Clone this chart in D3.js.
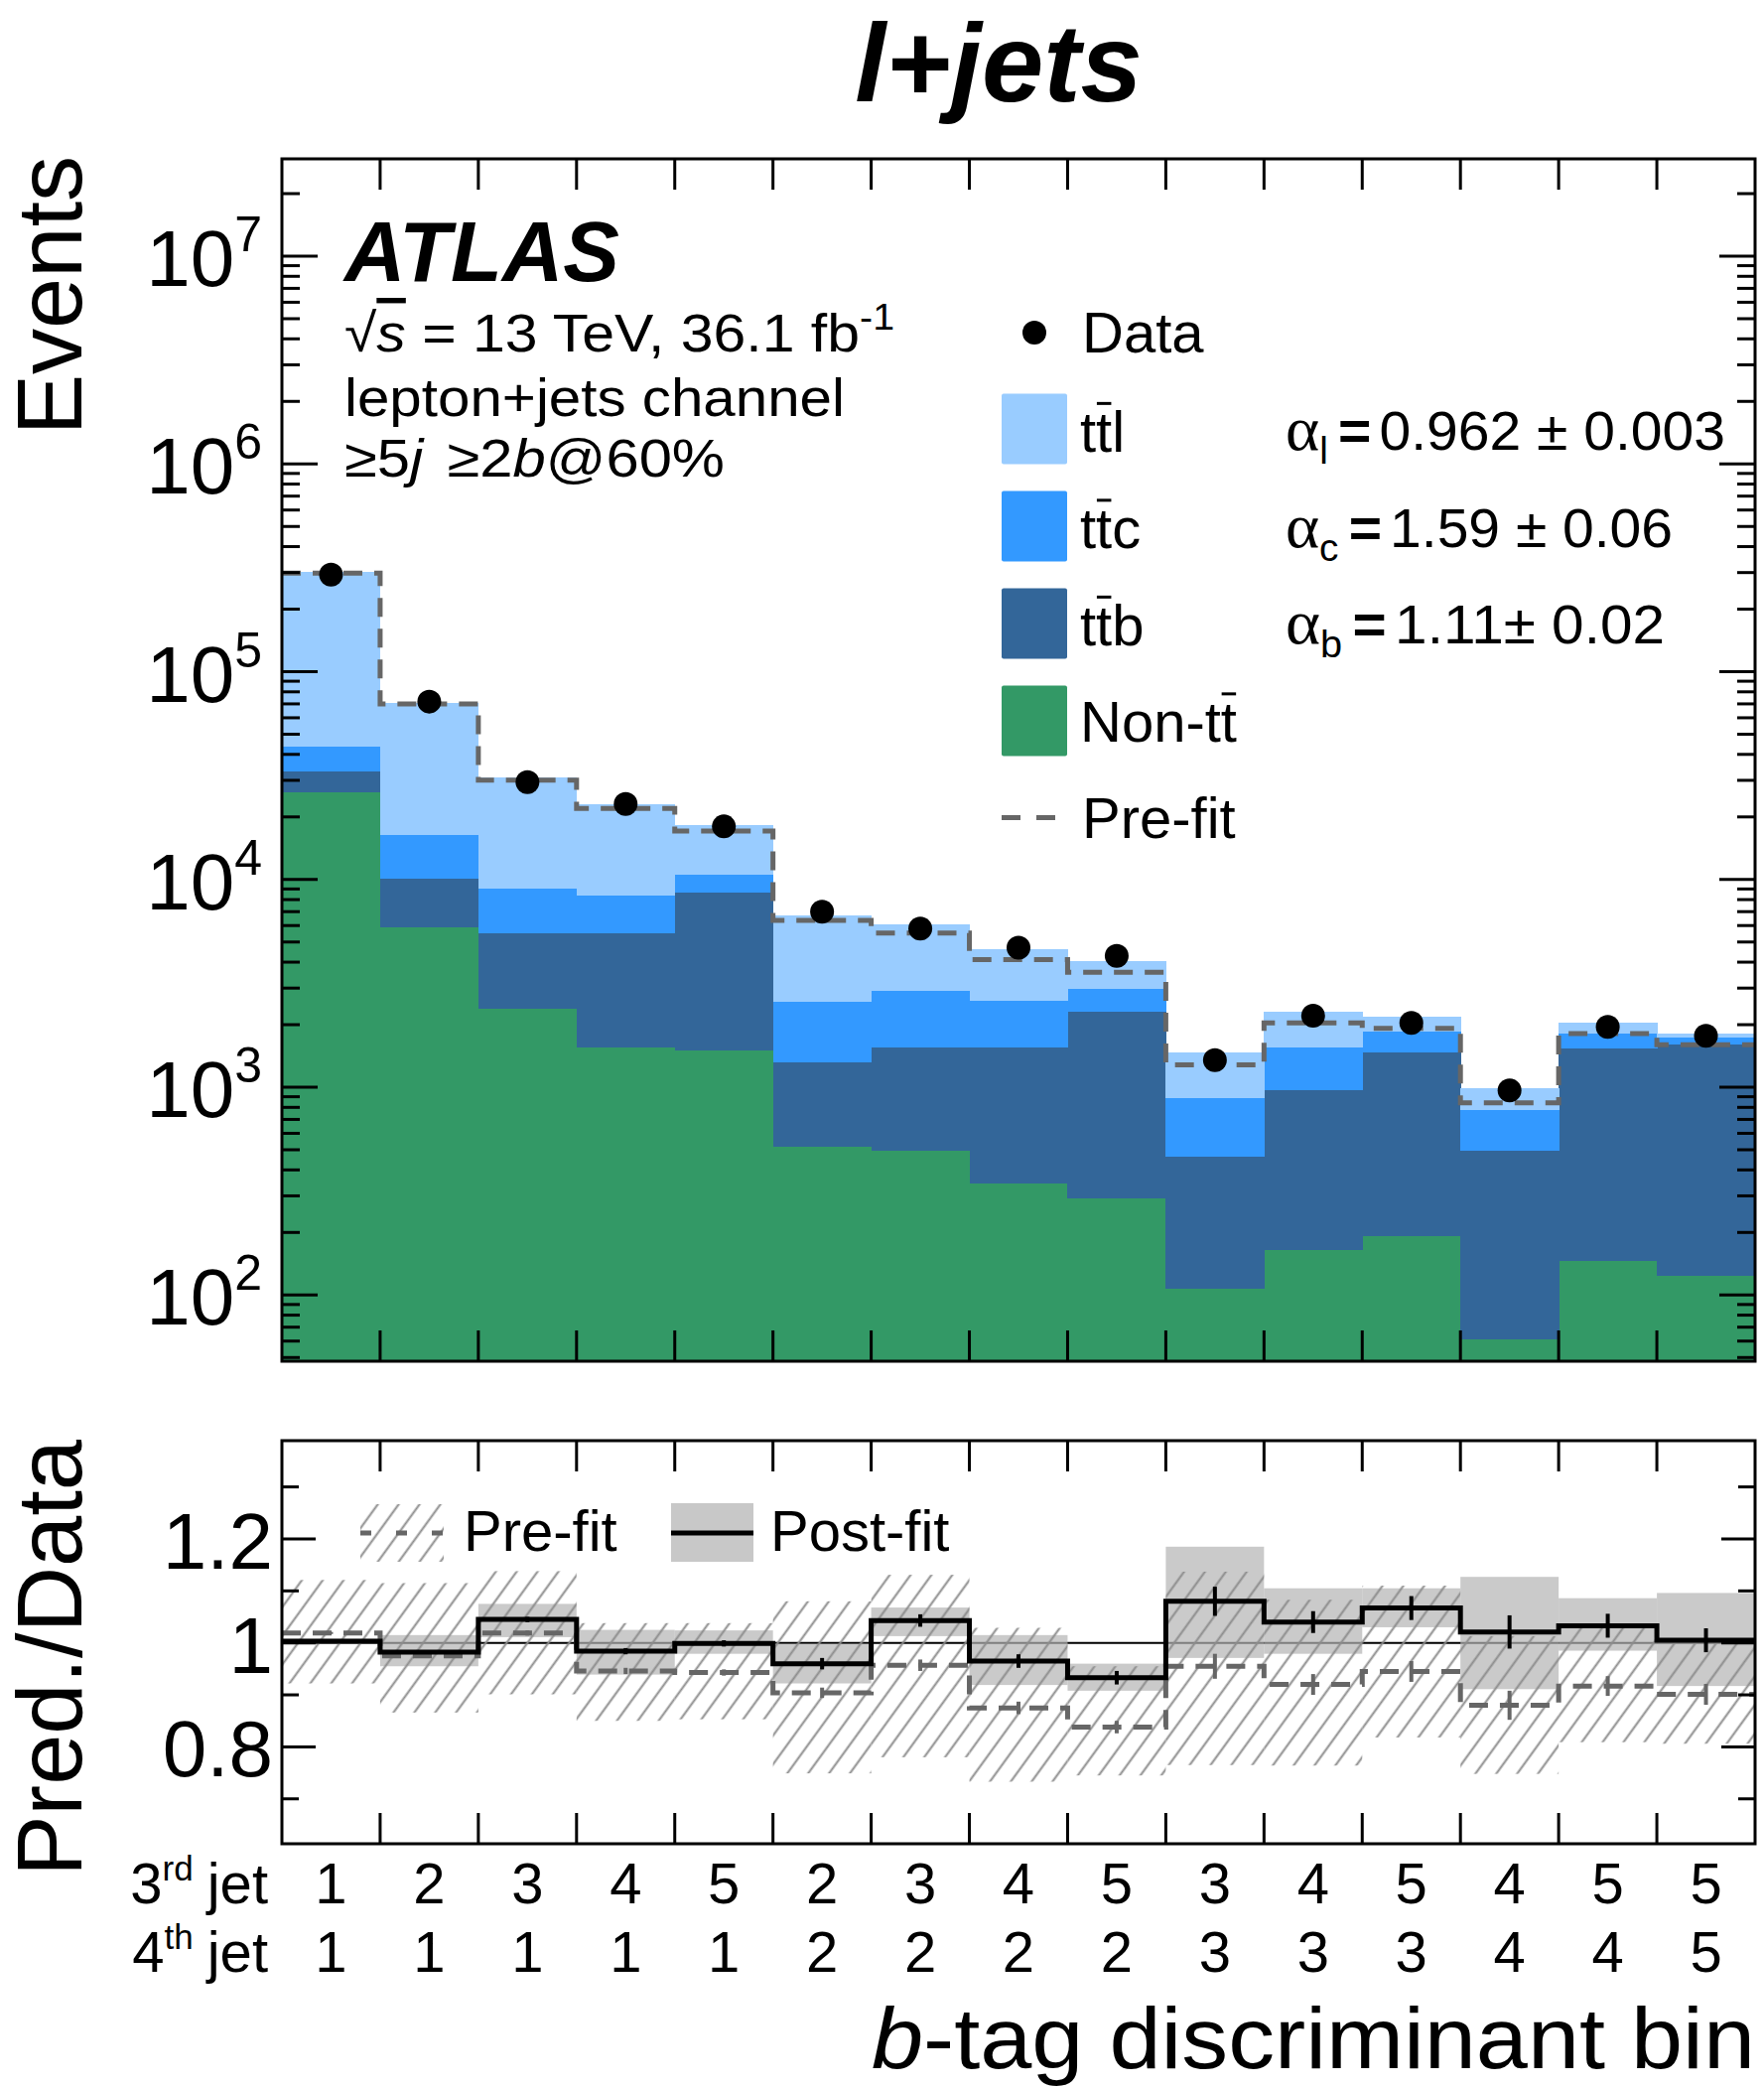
<!DOCTYPE html>
<html>
<head>
<meta charset="utf-8">
<script src="https://cdn.jsdelivr.net/npm/d3@7"></script>
<style>
body { margin: 0; background: #fff; }
svg { display: block; }
text { font-family: "Liberation Sans", Arial, Helvetica, sans-serif; fill: #000; }
</style>
</head>
<body>
<script>

var width = 1777, height = 2103;

// b-tag discriminant bin labels
var jet3 = [1, 2, 3, 4, 5, 2, 3, 4, 5, 3, 4, 5, 4, 5, 5];
var jet4 = [1, 1, 1, 1, 1, 2, 2, 2, 2, 3, 3, 3, 4, 4, 5];

// post-fit yields per process (stacked bottom to top)
var nonTT = [26200, 5870, 2380, 1560, 1510, 519, 497, 344, 291, 107, 164, 192, 61, 146, 123];
var ttb   = [6800, 4230, 3110, 3930, 7180, 791, 1063, 1216, 2029, 356, 803, 1278, 436, 1394, 1487];
var ttc   = [10800, 6200, 3510, 2840, 1810, 1260, 1350, 1060, 660, 420, 593, 380, 281, 280, 120];
var ttl   = [258200, 54600, 22100, 14670, 7700, 4180, 3140, 2000, 1060, 587, 750, 330, 212, 230, 80];

var data   = [293000, 71800, 29400, 23100, 18000, 7000, 5800, 4700, 4290, 1350, 2210, 2040, 966, 1950, 1770];
var preFit = [298000, 70000, 30100, 22000, 17100, 6350, 5520, 4110, 3580, 1280, 2040, 1920, 841, 1810, 1600];

// ratio panel: Pred./Data
var postRatio = [1.003, 0.982, 1.045, 0.984, 0.999, 0.960, 1.043, 0.965, 0.933, 1.080, 1.040, 1.067, 1.021, 1.033, 1.005];
var postErr   = [0.002, 0.003, 0.005, 0.006, 0.006, 0.011, 0.012, 0.013, 0.013, 0.028, 0.021, 0.023, 0.032, 0.023, 0.023];
var postLo    = [0.998, 0.955, 1.011, 0.939, 0.979, 0.922, 1.013, 0.919, 0.908, 0.971, 0.979, 1.030, 0.911, 0.985, 0.917];
var postHi    = [1.008, 1.015, 1.075, 1.025, 1.024, 0.998, 1.068, 1.015, 0.960, 1.185, 1.105, 1.105, 1.127, 1.086, 1.096];

var preRatio = [1.019, 0.975, 1.019, 0.946, 0.943, 0.904, 0.957, 0.875, 0.838, 0.955, 0.920, 0.945, 0.880, 0.917, 0.901];
var preErr   = [0.002, 0.003, 0.005, 0.006, 0.006, 0.010, 0.011, 0.012, 0.012, 0.024, 0.020, 0.020, 0.028, 0.019, 0.020];
var preLo    = [0.922, 0.866, 0.901, 0.850, 0.853, 0.749, 0.780, 0.733, 0.745, 0.765, 0.764, 0.818, 0.748, 0.809, 0.806];
var preHi    = [1.121, 1.115, 1.138, 1.038, 1.038, 1.080, 1.131, 1.029, 0.955, 1.137, 1.083, 1.110, 1.013, 1.035, 1.000];

// axis ticks
var yMajor = [1e2, 1e3, 1e4, 1e5, 1e6, 1e7];
var rMajor = [0.8, 1, 1.2];
var rLabels = ["0.8", "1", "1.2"];
var rMinor = [0.7, 0.9, 1.1, 1.3];

// legend
var procKeys   = ["nonTT", "ttb", "ttc", "ttl"];
var procColors = ["#339966", "#336699", "#3399ff", "#99ccff"];
var legLabels  = ["ttl", "ttc", "ttb", "Non-tt"];
var legBarChar = [1, 1, 1, 5];
var legColors  = ["#99ccff", "#3399ff", "#336699", "#339966"];

var plotL = 284, plotR = 1768;
var topT = 160, topB = 1371;
var ratT = 1451, ratB = 1857;
var yMin = 48;

var x = d3.scaleLinear().domain([0, 15]).range([plotL, plotR]);
var y = d3.scaleLog().domain([yMin, 2.94e7]).range([topB, topT]);
var yr = d3.scaleLinear().domain([0.6136, 1.389]).range([ratB, ratT]);
var bw = x(1) - x(0);

var svg = d3.select("body").append("svg")
    .attr("width", width)
    .attr("height", height);

var defs = svg.append("defs");
var hatch = defs.append("pattern")
    .attr("id", "hatch")
    .attr("patternUnits", "userSpaceOnUse")
    .attr("width", 17).attr("height", 17)
    .attr("patternTransform", "rotate(36)");
hatch.append("line")
    .attr("x1", 8.5).attr("y1", -2).attr("x2", 8.5).attr("y2", 19)
    .attr("stroke", "#8c8c8c").attr("stroke-width", 2);

// ---------- upper panel: stacked histogram ----------
var rows = data.map(function(d, i) {
  return {nonTT: nonTT[i], ttb: ttb[i], ttc: ttc[i], ttl: ttl[i]};
});
var series = d3.stack().keys(procKeys)(rows);

series.forEach(function(s, k) {
  svg.append("g").selectAll("rect").data(s).enter().append("rect")
    .attr("x", function(d, i) { return x(i); })
    .attr("width", bw + 0.5)
    .attr("y", function(d) { return y(d[1]); })
    .attr("height", function(d) { return y(Math.max(d[0], yMin)) - y(d[1]); })
    .attr("fill", procColors[k])
    .attr("shape-rendering", "crispEdges");
});

// pre-fit dashed step
var stepLine = d3.line().curve(d3.curveStepAfter);
function stepPts(vals, sc) {
  var p = vals.map(function(v, i) { return [x(i), sc(v)]; });
  p.push([x(vals.length), sc(vals[vals.length - 1])]);
  return p;
}

svg.append("path")
  .attr("d", stepLine(stepPts(preFit, y)))
  .attr("fill", "none")
  .attr("stroke", "#666")
  .attr("stroke-width", 5)
  .attr("stroke-dasharray", "19,12");

// data points
svg.append("g").selectAll("circle").data(data).enter().append("circle")
  .attr("cx", function(d, i) { return x(i + 0.5); })
  .attr("cy", function(d) { return y(d); })
  .attr("r", 12)
  .attr("fill", "#000");

// ---------- ratio panel ----------
svg.append("line")
  .attr("x1", plotL).attr("x2", plotR)
  .attr("y1", yr(1)).attr("y2", yr(1))
  .attr("stroke", "#000").attr("stroke-width", 2);

svg.append("g").selectAll("rect").data(postHi).enter().append("rect")
  .attr("x", function(d, i) { return x(i); })
  .attr("width", bw)
  .attr("y", function(d) { return yr(d); })
  .attr("height", function(d, i) { return yr(postLo[i]) - yr(d); })
  .attr("fill", "#b4b4b4")
  .attr("fill-opacity", 0.7);

svg.append("g").selectAll("rect").data(preHi).enter().append("rect")
  .attr("x", function(d, i) { return x(i); })
  .attr("width", bw)
  .attr("y", function(d) { return yr(d); })
  .attr("height", function(d, i) { return yr(preLo[i]) - yr(d); })
  .attr("fill", "url(#hatch)");

svg.append("path")
  .attr("d", stepLine(stepPts(preRatio, yr)))
  .attr("fill", "none")
  .attr("stroke", "#666")
  .attr("stroke-width", 5)
  .attr("stroke-dasharray", "19,12");

svg.append("g").selectAll("line").data(preRatio).enter().append("line")
  .attr("x1", function(d, i) { return x(i + 0.5); })
  .attr("x2", function(d, i) { return x(i + 0.5); })
  .attr("y1", function(d, i) { return yr(d + preErr[i]); })
  .attr("y2", function(d, i) { return yr(d - preErr[i]); })
  .attr("stroke", "#666").attr("stroke-width", 4);

svg.append("path")
  .attr("d", stepLine(stepPts(postRatio, yr)))
  .attr("fill", "none")
  .attr("stroke", "#000")
  .attr("stroke-width", 5);

svg.append("g").selectAll("line").data(postRatio).enter().append("line")
  .attr("x1", function(d, i) { return x(i + 0.5); })
  .attr("x2", function(d, i) { return x(i + 0.5); })
  .attr("y1", function(d, i) { return yr(d + postErr[i]); })
  .attr("y2", function(d, i) { return yr(d - postErr[i]); })
  .attr("stroke", "#000").attr("stroke-width", 4);

// ---------- frames and ticks ----------
function frame(t, b) {
  svg.append("rect")
    .attr("x", plotL).attr("y", t)
    .attr("width", plotR - plotL).attr("height", b - t)
    .attr("fill", "none").attr("stroke", "#000").attr("stroke-width", 3);
}
frame(topT, topB);
frame(ratT, ratB);

function tick(x1, y1, x2, y2) {
  svg.append("line")
    .attr("x1", x1).attr("y1", y1).attr("x2", x2).attr("y2", y2)
    .attr("stroke", "#000").attr("stroke-width", 3);
}

d3.range(1, 15).forEach(function(i) {
  var xx = x(i);
  tick(xx, topT, xx, topT + 31);
  tick(xx, topB, xx, topB - 31);
  tick(xx, ratT, xx, ratT + 31);
  tick(xx, ratB, xx, ratB - 31);
});

var yMinor = [];
d3.range(1, 8).forEach(function(n) {
  d3.range(2, 10).forEach(function(k) {
    var v = k * Math.pow(10, n);
    if (v > yMin && v < 2.94e7) yMinor.push(v);
  });
});
yMajor.forEach(function(v) {
  tick(plotL, y(v), plotL + 36, y(v));
  tick(plotR, y(v), plotR - 36, y(v));
});
yMinor.forEach(function(v) {
  tick(plotL, y(v), plotL + 18, y(v));
  tick(plotR, y(v), plotR - 18, y(v));
});
rMajor.forEach(function(v) {
  tick(plotL, yr(v), plotL + 34, yr(v));
  tick(plotR, yr(v), plotR - 34, yr(v));
});
rMinor.forEach(function(v) {
  tick(plotL, yr(v), plotL + 17, yr(v));
  tick(plotR, yr(v), plotR - 17, yr(v));
});

// ---------- text ----------
function label(str, xx, yy, size, anchor) {
  return svg.append("text")
    .attr("x", xx).attr("y", yy)
    .attr("font-size", size)
    .attr("text-anchor", anchor || "start")
    .text(str);
}
function overbar(t, idx, size) {
  var e = t.node().getExtentOfChar(idx);
  var by = +t.attr("y") - 0.83 * size;
  svg.append("line")
    .attr("x1", e.x + e.width * 0.05).attr("x2", e.x + e.width * 0.95)
    .attr("y1", by).attr("y2", by)
    .attr("stroke", "#000").attr("stroke-width", 3);
}

// y tick labels
yMajor.forEach(function(v) {
  var t = svg.append("text")
    .attr("x", 264).attr("y", y(v) + 30)
    .attr("font-size", 80)
    .attr("text-anchor", "end");
  t.append("tspan").text("10");
  t.append("tspan").attr("font-size", 50).attr("dy", -35).text(String(Math.round(Math.log10(v))));
});
rMajor.forEach(function(v, i) {
  label(rLabels[i], 275, yr(v) + 30, 80, "end");
});

// bin labels
jet3.forEach(function(v, i) {
  label(String(v), x(i + 0.5), 1917, 58, "middle");
  label(String(jet4[i]), x(i + 0.5), 1986, 58, "middle");
});
function jetLabel(num, sup, yy) {
  var t = svg.append("text")
    .attr("x", 270).attr("y", yy)
    .attr("font-size", 58)
    .attr("text-anchor", "end");
  t.append("tspan").text(num);
  t.append("tspan").attr("font-size", 35).attr("dy", -23).text(sup);
  t.append("tspan").attr("dy", 23).attr("dx", 14).text("jet");
}
jetLabel("3", "rd", 1917);
jetLabel("4", "th", 1986);

// axis titles
var xt = svg.append("text")
  .attr("x", plotR).attr("y", 2083)
  .attr("font-size", 88)
  .attr("text-anchor", "end")
  .attr("textLength", 890).attr("lengthAdjust", "spacingAndGlyphs");
xt.append("tspan").attr("font-style", "italic").text("b");
xt.append("tspan").text("-tag discriminant bin");

svg.append("text")
  .attr("transform", "translate(82,157) rotate(-90)")
  .attr("font-size", 92)
  .attr("text-anchor", "end")
  .text("Events");
svg.append("text")
  .attr("transform", "translate(82,1450) rotate(-90)")
  .attr("font-size", 92)
  .attr("text-anchor", "end")
  .text("Pred./Data");

// title
label("l+jets", 1006, 102, 112, "middle")
  .attr("font-weight", "bold").attr("font-style", "italic");

// ATLAS block
label("ATLAS", 347, 283, 85)
  .attr("font-weight", "bold").attr("font-style", "italic");

var rs = svg.append("text")
  .attr("x", 347).attr("y", 354)
  .attr("font-size", 54)
  .attr("textLength", 554).attr("lengthAdjust", "spacingAndGlyphs");
rs.append("tspan").text("\u221A");
rs.append("tspan").attr("font-style", "italic").style("text-decoration", "overline").text("s");
rs.append("tspan").text(" = 13 TeV, 36.1 fb");
rs.append("tspan").attr("font-size", 36).attr("dy", -22).text("-1");

label("lepton+jets channel", 347, 419, 54)
  .attr("textLength", 504).attr("lengthAdjust", "spacingAndGlyphs");

var sel = svg.append("text")
  .attr("x", 347).attr("y", 480)
  .attr("font-size", 54)
  .attr("textLength", 383).attr("lengthAdjust", "spacingAndGlyphs");
sel.append("tspan").text("\u22655");
sel.append("tspan").attr("font-style", "italic").text("j");
sel.append("tspan").attr("dx", 22).text("\u22652");
sel.append("tspan").attr("font-style", "italic").text("b");
sel.append("tspan").text("@60%");

// legend (upper)
svg.append("circle").attr("cx", 1042).attr("cy", 335).attr("r", 12).attr("fill", "#000");
label("Data", 1090, 354.5, 58);

legLabels.forEach(function(s, k) {
  svg.append("rect")
    .attr("x", 1009).attr("y", 396.5 + 98 * k)
    .attr("width", 66).attr("height", 71)
    .attr("rx", 2)
    .attr("fill", legColors[k]);
  var t = label(s, 1088, 454.5 + 97.5 * k, 58);
  overbar(t, legBarChar[k], 58);
});

svg.append("line")
  .attr("x1", 1009).attr("x2", 1064).attr("y1", 823.5).attr("y2", 823.5)
  .attr("stroke", "#666").attr("stroke-width", 5)
  .attr("stroke-dasharray", "19,16");
label("Pre-fit", 1090, 844, 58);

// fitted normalisation factors
function alphaLine(sub, rest, yy, len) {
  var t = svg.append("text")
    .attr("x", 1295).attr("y", yy)
    .attr("font-size", 56)
    .attr("textLength", len).attr("lengthAdjust", "spacingAndGlyphs");
  t.append("tspan").attr("font-family", "Liberation Serif").attr("font-size", 64).text("\u03B1");
  t.append("tspan").attr("font-size", 38).attr("dy", 14).text(sub);
  t.append("tspan").attr("dy", -14).attr("dx", 10).attr("font-weight", "bold").text("=");
  t.append("tspan").attr("dx", 8).text(rest);
}
alphaLine("l", "0.962 \u00B1 0.003", 453, 443);
alphaLine("c", "1.59 \u00B1 0.06", 551, 390);
alphaLine("b", "1.11\u00B1 0.02", 648, 382);

// legend (ratio)
svg.append("rect")
  .attr("x", 363).attr("y", 1515).attr("width", 84).attr("height", 58)
  .attr("fill", "url(#hatch)");
svg.append("line")
  .attr("x1", 363).attr("x2", 447).attr("y1", 1544).attr("y2", 1544)
  .attr("stroke", "#666").attr("stroke-width", 5)
  .attr("stroke-dasharray", "11,25");
label("Pre-fit", 467, 1562, 58);

svg.append("rect")
  .attr("x", 676).attr("y", 1514).attr("width", 83).attr("height", 59)
  .attr("fill", "#c8c8c8");
svg.append("line")
  .attr("x1", 676).attr("x2", 759).attr("y1", 1544).attr("y2", 1544)
  .attr("stroke", "#000").attr("stroke-width", 5);
label("Post-fit", 776, 1562, 58);

</script>
</body>
</html>
